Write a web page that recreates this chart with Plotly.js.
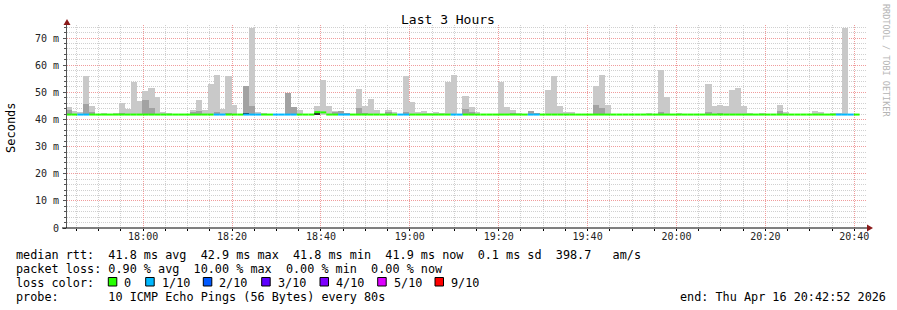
<!DOCTYPE html>
<html><head><meta charset="utf-8">
<script src="https://cdn.plot.ly/plotly-3.0.1.min.js"></script>
<style>html,body{margin:0;padding:0;background:#fff}#c{width:897px;height:310px}</style>
</head><body><div id="c"></div>
<script>
// ---- data (80 s steps, 134 columns) ----
const firstStep = '2026-04-16 17:42:32';
const stepSeconds = 80;
const rangeStart = '2026-04-16 17:42:52';
const rangeEnd = '2026-04-16 20:42:52';

// top of light smoke (ms)
const smokeHi = [44.6,43.1,42.7,55.9,45.0,null,42.3,null,42.3,46.1,
 43.7,53.8,46.8,50.4,51.7,48.3,42.7,42.3,null,null,
 null,43.6,47.3,43.6,53.2,56.5,43.7,55.9,45.4,null,
 52.3,73.8,42.7,42.3,null,null,null,49.7,44.6,43.6,
 null,null,45.0,54.7,45.0,43.1,43.1,42.5,null,51.2,
 45.0,47.5,43.6,null,43.6,42.8,null,56.0,46.4,42.7,
 43.1,42.5,42.8,42.5,53.8,56.5,null,48.6,44.6,42.7,
 null,null,null,53.8,44.6,43.6,42.5,null,43.1,42.5,
 null,50.8,55.9,45.0,42.8,42.8,null,null,null,52.3,
 56.5,45.4,null,null,null,null,null,null,42.3,null,
 58.3,48.3,null,42.3,null,null,null,null,53.2,45.0,
 45.4,45.0,50.8,51.7,45.0,42.3,null,42.3,null,null,
 45.4,42.7,null,null,null,null,43.1,42.7,null,42.3,
 42.3,73.8,null,null];

// top of dark smoke (ms)
const smokeMid = [43.6,null,null,45.8,42.7,null,null,null,null,42.3,
 null,null,null,47.3,44.2,null,null,null,null,null,
 null,42.7,43.1,null,null,42.7,null,42.3,null,null,
 52.3,45.0,null,null,null,null,null,49.7,44.6,null,
 null,null,42.7,null,null,42.7,43.1,42.5,null,44.2,
 42.5,null,null,null,42.7,null,null,42.9,null,null,
 null,null,null,null,null,null,null,43.7,42.9,null,
 null,null,null,null,null,42.5,null,null,43.1,42.5,
 null,null,null,null,null,null,null,null,null,45.4,
 44.2,null,null,null,null,null,null,null,null,null,
 42.7,null,null,null,null,null,null,null,42.7,null,
 42.3,null,null,null,null,null,null,null,null,null,
 43.2,null,null,null,null,null,null,null,null,null,
 null,null,null,null];

// darkest core of smoke (ms)
const smokeCore = [null,null,null,null,null,null,null,null,null,null,
 null,null,null,null,null,null,null,null,null,null,
 null,null,null,null,null,null,null,null,null,null,
 42.4,null,null,null,null,null,null,null,null,null,
 null,null,42.5,null,null,null,null,null,null,null,
 null,null,null,null,null,null,null,null,null,null,
 null,null,null,null,null,null,null,null,null,null,
 null,null,null,null,null,null,null,null,null,null,
 null,null,null,null,null,null,null,null,null,null,
 null,null,null,null,null,null,null,null,null,null,
 null,null,null,null,null,null,null,null,null,null,
 null,null,null,null,null,null,null,null,null,null,
 null,null,null,null,null,null,null,null,null,null,
 null,null,null,null];

// median rtt (ms)
const median = [41.8,41.8,41.8,41.8,41.8,41.8,41.8,41.8,41.8,41.8,
 41.8,41.8,41.8,41.8,41.8,41.8,41.8,41.8,41.8,41.8,
 41.8,41.8,41.8,41.8,41.8,41.8,41.8,41.8,41.8,41.8,
 41.8,41.8,41.8,41.8,41.8,41.8,41.8,41.8,41.8,41.8,
 41.8,41.8,42.7,42.6,41.8,41.8,41.8,41.8,41.8,41.8,
 41.8,41.8,41.8,41.8,41.8,41.8,41.8,41.8,41.8,41.8,
 41.8,41.8,41.8,41.8,41.8,41.8,41.8,41.8,41.8,41.8,
 41.8,41.8,41.8,41.8,41.8,41.8,41.8,41.8,41.8,41.8,
 41.8,41.8,41.8,41.8,41.8,41.8,41.8,41.8,41.8,41.8,
 41.8,41.8,41.8,41.8,41.8,41.8,41.8,41.8,41.8,41.8,
 41.8,41.8,41.8,41.8,41.8,41.8,41.8,41.8,41.8,41.8,
 41.8,41.8,41.8,41.8,41.8,41.8,41.8,41.8,41.8,41.8,
 41.8,41.8,41.8,41.8,41.8,41.8,41.8,41.8,41.8,41.8,
 41.8,41.8,41.8,41.8];

// lost pings out of 10
const loss = [0,0,1,1,0,0,0,0,0,0,
 0,0,0,0,0,0,0,0,0,0,
 0,0,0,0,0,1,1,0,0,0,
 1,1,1,0,0,1,1,1,1,0,
 0,0,0,0,0,0,1,1,0,0,
 0,0,0,0,0,0,1,1,0,0,
 0,0,0,0,0,1,1,0,0,0,
 0,0,0,0,0,0,0,0,1,1,
 0,0,0,0,0,0,0,0,0,0,
 0,0,0,0,0,0,0,0,0,0,
 0,0,0,0,0,0,0,0,0,0,
 0,0,0,0,0,0,0,0,0,0,
 0,0,0,0,0,0,0,0,0,0,
 1,1,1,0];

const lossLabels = ['0','1/10','2/10','3/10','4/10','5/10','9/10'];
const lossColors = ['#26ff00','#00b8ff','#0059ff','#5e00ff','#7e00ff','#dd00ff','#ff0000'];
const yTickVals = [0,10,20,30,40,50,60,70];
const yTickText = ['0','10 m','20 m','30 m','40 m','50 m','60 m','70 m'];

const statsLine1 = 'median rtt:  41.8 ms avg  42.9 ms max  41.8 ms min  41.9 ms now  0.1 ms sd  398.7   am/s';
const statsLine2 = 'packet loss: 0.90 % avg  10.00 % max  0.00 % min  0.00 % now';
const statsLine3 = 'loss color:';
const statsLine4 = 'probe:       10 ICMP Echo Pings (56 Bytes) every 80s';
const endLine = 'end: Thu Apr 16 20:42:52 2026';
const chartTitle = 'Last 3 Hours';
const yTitle = 'Seconds';
const watermark = 'RRDTOOL / TOBI OETIKER';

// ---- build ----
function toMs(s){const p=s.split(/[- :]/).map(Number);return Date.UTC(p[0],p[1]-1,p[2],p[3],p[4],p[5]);}
const t0 = toMs(firstStep), stepMs = stepSeconds*1000;
const BASE = 41.6;
function barTrace(vals, color){
  const x=[],y=[];
  vals.forEach((v,k)=>{ if(v!=null){ x.push(t0+k*stepMs+stepMs/2); y.push(v-BASE);} });
  return {type:'bar', x:x, y:y, base:BASE, width:stepMs*1.03, marker:{color:color, line:{width:0}}, hoverinfo:'skip', showlegend:false};
}
const traces = [barTrace(smokeHi,'#c9c9c9'), barTrace(smokeMid,'#a2a2a2'), barTrace(smokeCore,'#2a2a2a')];
for(let lv=0; lv<=1; lv++){
  const x=[],y=[];
  median.forEach((m,k)=>{ if(loss[k]===lv){ x.push(t0+k*stepMs, t0+(k+1)*stepMs, null); y.push(m,m,null);} });
  traces.push({type:'scatter', mode:'lines', x:x, y:y, line:{color:lossColors[lv], width:2}, hoverinfo:'skip', showlegend:false});
}
// empty carrier so the overlaid major-grid axis is drawn
traces.push({type:'scatter', mode:'none', x:[], y:[], xaxis:'x2', hoverinfo:'skip', showlegend:false});

const L=67, R=867, T=25, B=228;
const px = v => (v-L)/(R-L);
const py = v => (B-v)/(B-T);
const nb = s => s.replace(/ /g,'\u00a0');
const mono = 'DejaVu Sans Mono, monospace';
const ann = [];
function txt(text,x,y,opts){ann.push(Object.assign({text:nb(text),xref:'paper',yref:'paper',x:px(x),y:py(y),xanchor:'left',yanchor:'middle',showarrow:false,font:{family:mono,size:11.8,color:'#000'}},opts||{}));}
txt(chartTitle,448,19.5,{xanchor:'center',font:{family:mono,size:13,color:'#000'}});
txt(yTitle,11,127,{xanchor:'center',textangle:-90,font:{family:mono,size:12,color:'#000'}});
txt(watermark,886,60,{xanchor:'center',textangle:90,font:{family:mono,size:8.5,color:'#b4b4b4'}});
txt(statsLine1,14,254.5);
txt(statsLine2,14,268.5);
txt(statsLine3,14,282.5);
txt(statsLine4,14,296.5);
txt(endLine,678,296.5);
const sqX = [108.3,145.7,203.3,261.7,320,377.7,435];
const shapes = [];
lossLabels.forEach((lab,i)=>{
  shapes.push({type:'rect',xref:'paper',yref:'paper',x0:px(sqX[i]),x1:px(sqX[i]+8.5),y0:py(286),y1:py(277.5),fillcolor:lossColors[i],line:{color:'#000',width:1}});
  txt(lab,sqX[i]+14,282.5);
});
// axis arrows
shapes.push({type:'path',xref:'paper',yref:'paper',xsizemode:'pixel',ysizemode:'pixel',xanchor:0,yanchor:1,path:'M -3.5,0 L 3.5,0 L 0,6 Z',fillcolor:'#8b1a1a',line:{width:0}});
shapes.push({type:'path',xref:'paper',yref:'paper',xsizemode:'pixel',ysizemode:'pixel',xanchor:1,yanchor:0,path:'M 0,-3.5 L 0,3.5 L 6,0 Z',fillcolor:'#8b1a1a',line:{width:0}});
shapes.push({type:'line',xref:'paper',yref:'paper',x0:px(62),x1:px(867),y0:0,y1:0,line:{color:'#000',width:1}});

const gridMajor = '#f09c9c', gridMinor = '#d0d0d0';
const tickFont = {family:mono,size:10,color:'#222'};
const layout = {
  width:897, height:310,
  margin:{l:L, r:897-R, t:T, b:310-B, pad:0},
  paper_bgcolor:'#fff', plot_bgcolor:'#fff',
  barmode:'overlay', bargap:0,
  showlegend:false,
  xaxis:{type:'date', range:[rangeStart,rangeEnd], tickmode:'linear', tick0:'2026-04-16 18:00:00', dtick:300000,
    showticklabels:false, showgrid:true, gridcolor:gridMinor, griddash:'1px,1px', gridwidth:1,
    ticks:'outside', ticklen:2, tickcolor:'#000', showline:false, zeroline:false, fixedrange:true},
  xaxis2:{type:'date', overlaying:'x', anchor:'y', side:'bottom', range:[rangeStart,rangeEnd], tickmode:'linear', tick0:'2026-04-16 18:00:00', dtick:1200000,
    tickformat:'%H:%M', showgrid:true, gridcolor:gridMajor, griddash:'1px,1px', gridwidth:1,
    ticks:'outside', ticklen:2, tickcolor:'#000', showline:false, zeroline:false, tickfont:tickFont, fixedrange:true},
  yaxis:{range:[0,74.8], tickmode:'array', tickvals:yTickVals, ticktext:yTickText,
    showgrid:true, gridcolor:gridMajor, griddash:'1px,1px', gridwidth:1,
    minor:{tickmode:'linear', tick0:0, dtick:2, showgrid:true, gridcolor:gridMinor, griddash:'1px,1px', ticks:'outside', ticklen:2, tickcolor:'#555'},
    ticks:'outside', ticklen:3, tickcolor:'#555', showline:true, linecolor:'#555', linewidth:1, zeroline:false,
    ticklabelstandoff:2, tickfont:tickFont, fixedrange:true},
  annotations:ann, shapes:shapes
};
Plotly.newPlot('c', traces, layout, {staticPlot:true, displayModeBar:false}).then(()=>{
  // nudge the time labels up to sit just under the axis, as in the reference
  document.querySelectorAll('.x2tick text').forEach(t=>{
    const y=parseFloat(t.getAttribute('y')||'0'); t.setAttribute('y', y-3);
  });
});
</script></body></html>
